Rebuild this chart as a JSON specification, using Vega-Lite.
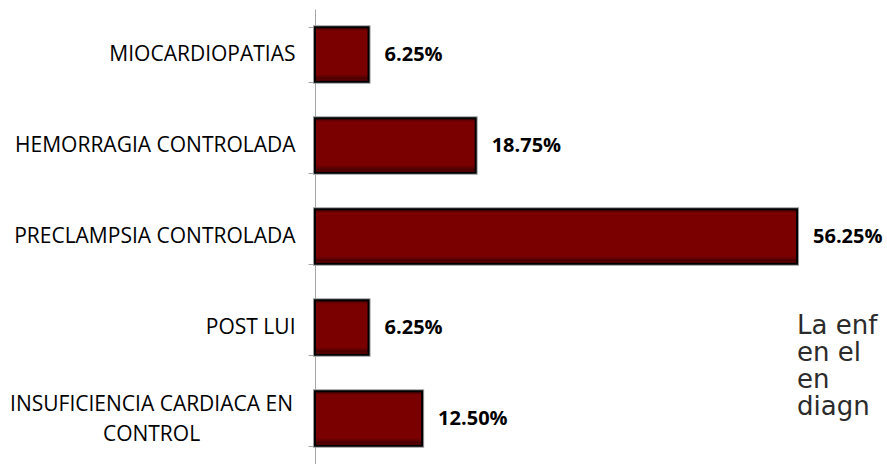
{
  "$schema": "https://vega.github.io/schema/vega-lite/v6.json",
  "autosize": "none",
  "width": 572,
  "height": 455,
  "padding": {"left": 315, "top": 9, "right": 0, "bottom": 0},
  "background": "#ffffff",
  "config": {"view": {"stroke": null}},
  "data": {
    "values": [
      {"cause": "MIOCARDIOPATIAS", "pct": 0.0625},
      {"cause": "HEMORRAGIA CONTROLADA", "pct": 0.1875},
      {"cause": "PRECLAMPSIA CONTROLADA", "pct": 0.5625},
      {"cause": "POST LUI", "pct": 0.0625},
      {"cause": "INSUFICIENCIA CARDIACA EN CONTROL", "pct": 0.125}
    ]
  },
  "encoding": {
    "y": {
      "field": "cause",
      "type": "nominal",
      "sort": null,
      "scale": {"paddingInner": 0.4, "paddingOuter": 0.2},
      "axis": {
        "title": null,
        "domainColor": "#a6a6a6",
        "domainWidth": 1,
        "tickColor": "#a6a6a6",
        "tickSize": 7,
        "tickBand": "extent",
        "labelFont": "Open Sans",
        "labelFontSize": 21,
        "labelColor": "#000000",
        "labelLineHeight": 30,
        "labelLimit": 400,
        "labelExpr": "datum.label == 'INSUFICIENCIA CARDIACA EN CONTROL' ? ['INSUFICIENCIA CARDIACA EN', 'CONTROL'] : datum.label",
        "labelAlign": {"condition": {"test": "datum.value == 'INSUFICIENCIA CARDIACA EN CONTROL'", "value": "center"}, "value": "right"},
        "labelPadding": {"condition": {"test": "datum.value == 'INSUFICIENCIA CARDIACA EN CONTROL'", "value": 157}, "value": 13},
        "labelOffset": {"condition": {"test": "datum.value == 'INSUFICIENCIA CARDIACA EN CONTROL'", "value": -14}, "value": 0}
      }
    },
    "x": {
      "field": "pct",
      "type": "quantitative",
      "scale": {"domain": [0, 0.6675], "nice": false, "zero": true},
      "axis": null
    }
  },
  "layer": [
    {
      "mark": {"type": "bar", "fill": "#7a0000", "stroke": "#9a9a9a", "strokeWidth": 4}
    },
    {
      "mark": {
        "type": "bar",
        "fill": {"gradient": "linear", "x1": 0, "y1": 0, "x2": 0, "y2": 1,
          "stops": [
            {"offset": 0, "color": "#3d0000"},
            {"offset": 0.07, "color": "#7a0000"},
            {"offset": 0.86, "color": "#7a0000"},
            {"offset": 0.94, "color": "#4a0000"},
            {"offset": 1, "color": "#7a0000"}
          ]},
        "stroke": "#000000",
        "strokeWidth": 2
      }
    },
    {
      "mark": {"type": "text", "align": "left", "baseline": "middle", "dx": 16, "font": "Open Sans", "fontWeight": "bold", "fontSize": 20, "color": "#000000"},
      "encoding": {"text": {"field": "pct", "type": "quantitative", "format": ".2%"}}
    },
    {
      "data": {"values": [{"cause": "POST LUI", "pct": 0.5625}]},
      "mark": {"type": "text", "align": "left", "baseline": "alphabetic", "dy": 6, "dx": 0, "font": "DejaVu Sans", "fontWeight": "normal", "fontSize": 26, "lineHeight": 27, "color": "#2b2b2b", "text": ["La enf", "en el", "en", "diagn"]}
    }
  ]
}
